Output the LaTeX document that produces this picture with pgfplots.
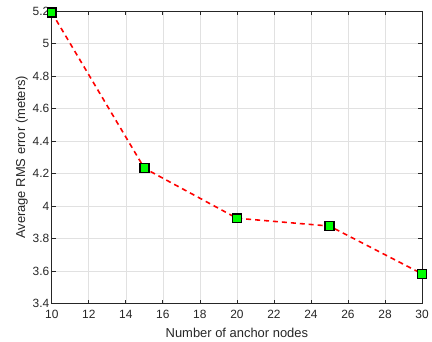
\documentclass[border=0pt]{standalone}
\usepackage{fontspec}
\setmainfont{Liberation Sans}
\usepackage{pgfplots}
\pgfplotsset{compat=1.18}
\definecolor{gridgray}{RGB}{225,225,225}
\definecolor{axgray}{RGB}{38,38,38}
\begin{document}
\begin{tikzpicture}
\begin{axis}[
  name=ax,
  width=372pt, height=294pt, scale only axis,
  xmin=10, xmax=30, ymin=3.4, ymax=5.2,
  xtick={10,12,...,30},
  xticklabels={10,12,14,16,18,20,22,24,26,28,30},
  ytick={3.4,3.6,...,5.21},
  yticklabels={3.4,3.6,3.8,4,4.2,4.4,4.6,4.8,5,5.2},
  grid=major,
  major grid style={gridgray, line width=0.6pt},
  axis line style={axgray, line width=0.7pt},
  tick style={axgray, line width=0.7pt},
  tick align=inside,
  major tick length=4pt,
  xticklabel style={font=\fontsize{12}{14}\selectfont, text=axgray, yshift=-3pt},
  yticklabel style={font=\fontsize{12}{14}\selectfont, text=axgray, xshift=1pt},
  label style={font=\fontsize{13}{15}\selectfont, text=axgray},
  xlabel style={yshift=-3pt},
  ylabel style={yshift=-2pt},
  xlabel={Number of anchor nodes},
  ylabel={Average RMS error (meters)},
  clip=false,
]
\addplot[red, line width=1.6pt, dash pattern=on 5pt off 4pt,
  mark=square*, mark options={solid, fill=green, draw=black, line width=1.5pt}, mark size=4.5pt]
  coordinates {(10,5.19) (15,4.233) (20,3.925) (25,3.877) (30,3.583)};
\end{axis}
\useasboundingbox ([shift={(-52pt,-38pt)}]ax.south west) rectangle ([shift={(8pt,11pt)}]ax.north east);
\end{tikzpicture}
\end{document}
